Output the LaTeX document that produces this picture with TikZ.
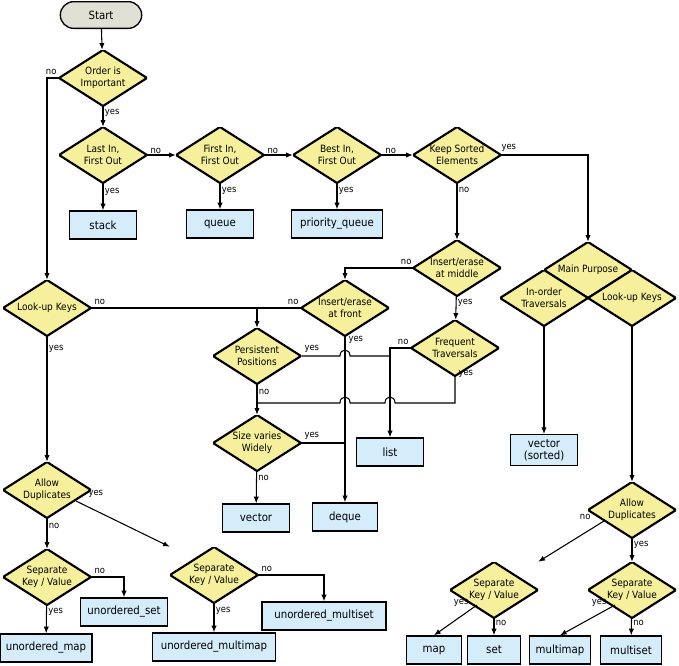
\documentclass[tikz,border=0pt]{standalone}
\usepackage{fontspec}
\setmainfont{DejaVu Sans Condensed}
\usetikzlibrary{arrows.meta}
\definecolor{diayel}{HTML}{F6F09C}
\definecolor{boxblue}{HTML}{D5ECFB}
\definecolor{startgray}{HTML}{E1E0D4}
\tikzset{
 dia/.style={rectangle, minimum width=66pt, minimum height=42pt, inner sep=0, align=center,
   font=\fontsize{7.5}{9}\selectfont,
   path picture={\filldraw[fill=diayel, draw=black, line width=1.6pt](path picture bounding box.north)--(path picture bounding box.east)--(path picture bounding box.south)--(path picture bounding box.west)--cycle;}},
 cbox/.style={draw, fill=boxblue, line width=1pt, align=center, inner sep=0, minimum height=21pt, font=\fontsize{8.5}{9.5}\selectfont},
 lbl/.style={font=\fontsize{7}{8}\selectfont, inner sep=1pt},
 arr/.style={-{Latex[length=5pt,width=4pt]}, line width=0.8pt},
 ln/.style={line width=0.8pt}
}
\begin{document}
\begin{tikzpicture}[x=0.75pt,y=-0.75pt]
\useasboundingbox (0,0) rectangle (679,665);
\node[draw, fill=startgray, rounded corners=10pt, line width=1pt, minimum width=61pt, minimum height=20pt, font=\fontsize{8.5}{9.5}\selectfont] (start) at (101,15) {Start};
\node[dia] (oi) at (103,78) {Order is\\Important};
\node[dia] (lifo) at (103,155) {Last In,\\First Out};
\node[dia] (fifo) at (220,155) {First In,\\First Out};
\node[dia] (bifo) at (337,155) {Best In,\\First Out};
\node[dia] (ks) at (457,155) {Keep Sorted\\Elements};
\node[cbox, minimum width=50pt] (stack) at (103,225) {stack};
\node[cbox, minimum width=50pt] (queue) at (220,224) {queue};
\node[cbox, minimum width=68pt] (pq) at (337,224) {priority\_queue};
\node[dia] (im) at (457,268) {Insert/erase\\at middle};
\node[dia] (mp) at (588,270) {Main Purpose};
\node[dia] (io) at (544,298) {In-order\\Traversals};
\node[dia] (lkr) at (632,298) {Look-up Keys};
\node[dia] (lkl) at (47,308) {Look-up Keys};
\node[dia] (ife) at (345,308) {Insert/erase\\at front};
\node[dia] (fq) at (455,348) {Frequent\\Traversals};
\node[dia] (pp) at (257,356) {Persistent\\Positions};
\node[dia] (sv) at (257,443) {Size varies\\Widely};
\node[cbox, minimum width=50pt] (list) at (390,452) {list};
\node[cbox, minimum width=50pt] (vec) at (256,518) {vector};
\node[cbox, minimum width=49pt] (deque) at (345,517) {deque};
\node[cbox, minimum width=50pt, minimum height=23pt, font=\fontsize{8.5}{9}\selectfont] (vs) at (544,450) {vector\\(sorted)};
\node[dia] (adl) at (47,490) {Allow\\Duplicates};
\node[dia] (sk1) at (47,577) {Separate\\Key / Value};
\node[dia] (sk2) at (214,575) {Separate\\Key / Value};
\node[cbox, minimum width=65pt] (us) at (124,612) {unordered\_set};
\node[cbox, minimum width=93pt] (ums) at (324,616) {unordered\_multiset};
\node[cbox, minimum width=69pt] (um) at (46,648) {unordered\_map};
\node[cbox, minimum width=92pt] (umm) at (214,647) {unordered\_multimap};
\node[dia] (adr) at (632,510) {Allow\\Duplicates};
\node[dia] (sk3) at (494,590) {Separate\\Key / Value};
\node[dia] (sk4) at (632,590) {Separate\\Key / Value};
\node[cbox, minimum width=41pt] (map) at (434,650) {map};
\node[cbox, minimum width=40pt] (set) at (494,650) {set};
\node[cbox, minimum width=46pt] (mm) at (560,650) {multimap};
\node[cbox, minimum width=46pt] (ms) at (631,650) {multiset};
% connectors
\draw[arr] (start) -- (oi);
\draw[arr] (oi) -- node[lbl, right, pos=0.3]{yes} (lifo);
\draw[arr] (oi.west) -- (47,78) -- (lkl.north);
\node[lbl, anchor=south east] at (58,76) {no};
\draw[arr] (lifo) -- node[lbl, above, pos=0.3]{no} (fifo);
\draw[arr] (fifo) -- node[lbl, above, pos=0.3]{no} (bifo);
\draw[arr] (bifo) -- node[lbl, above, pos=0.3]{no} (ks);
\draw[arr] (lifo) -- node[lbl, right, pos=0.3]{yes} (stack);
\draw[arr] (fifo) -- node[lbl, right, pos=0.3]{yes} (queue);
\draw[arr] (bifo) -- node[lbl, right, pos=0.3]{yes} (pq);
\draw[arr] (ks.east) -- (588,155) -- (mp.north);
\node[lbl, anchor=south west] at (500,153) {yes};
\draw[arr] (ks) -- node[lbl, right, pos=0.12]{no} (im);
\draw[arr] (im.west) -- (345,268) -- (ife.north);
\node[lbl, anchor=south east] at (413,266) {no};
\draw[arr] (im) -- node[lbl, right, pos=0.3]{yes} (fq);
\draw[ln] (lkl.east) -- (257,308);
\node[lbl, anchor=south west] at (93,306) {no};
\draw[ln] (ife.west) -- (257,308);
\node[lbl, anchor=south east] at (300,306) {no};
\draw[arr] (257,308) -- (pp.north);
\draw[arr] (ife.south) -- (deque.north);
\node[lbl, anchor=north west] at (347,335) {yes};
\draw[ln] (pp.east) -- (340,356) .. controls (340,348) and (350,348) .. (350,356) -- (390,356);
\node[lbl, anchor=south west] at (303,354) {yes};
\draw[arr] (fq.west) -- (390,348) -- (list.north);
\node[lbl, anchor=south east] at (410,346) {no};
\draw[ln] (fq.south) -- (455,403) -- (395,403) .. controls (395,395) and (385,395) .. (385,403) -- (350,403) .. controls (350,395) and (340,395) .. (340,403) -- (257,403);
\node[lbl, anchor=north west] at (457,369) {yes};
\draw[arr] (pp) -- node[lbl, right, pos=0.25]{no} (sv);
\draw[ln] (sv.east) -- (345,443);
\node[lbl, anchor=south west] at (303,441) {yes};
\draw[arr] (sv) -- node[lbl, right, pos=0.2]{no} (vec);
\draw[arr] (io.south) -- (vs.north);
\draw[arr] (lkr.south) -- (adr.north);
\draw[arr] (lkl) -- node[lbl, right, pos=0.1]{yes} (adl);
\draw[arr] (adl) -- node[lbl, right, pos=0.25]{no} (sk1);
\draw[arr] (76,501) -- (sk2.north west);
\node[lbl, anchor=south west] at (87,499) {yes};
\draw[arr] (sk1.east) -- (124,577) -- (us.north);
\node[lbl, anchor=south west] at (93,575) {no};
\draw[arr] (sk1) -- node[lbl, right, pos=0.25]{yes} (um);
\draw[arr] (sk2.east) -- (324,575) -- (ums.north);
\node[lbl, anchor=south west] at (260,573) {no};
\draw[arr] (sk2) -- node[lbl, right, pos=0.25]{yes} (umm);
\draw[arr] (604,521) -- (sk3.north east);
\node[lbl, anchor=south east] at (592,521) {no};
\draw[arr] (adr) -- node[lbl, right, pos=0.3]{yes} (sk4);
\draw[arr] (477,605) -- (map.north);
\node[lbl, anchor=south east] at (470,608) {yes};
\draw[arr] (sk3) -- node[lbl, right, pos=0.25]{no} (set);
\draw[arr] (615,605) -- (mm.north);
\node[lbl, anchor=south east] at (608,608) {yes};
\draw[arr] (sk4) -- node[lbl, right, pos=0.25]{no} (ms);
\end{tikzpicture}
\end{document}
